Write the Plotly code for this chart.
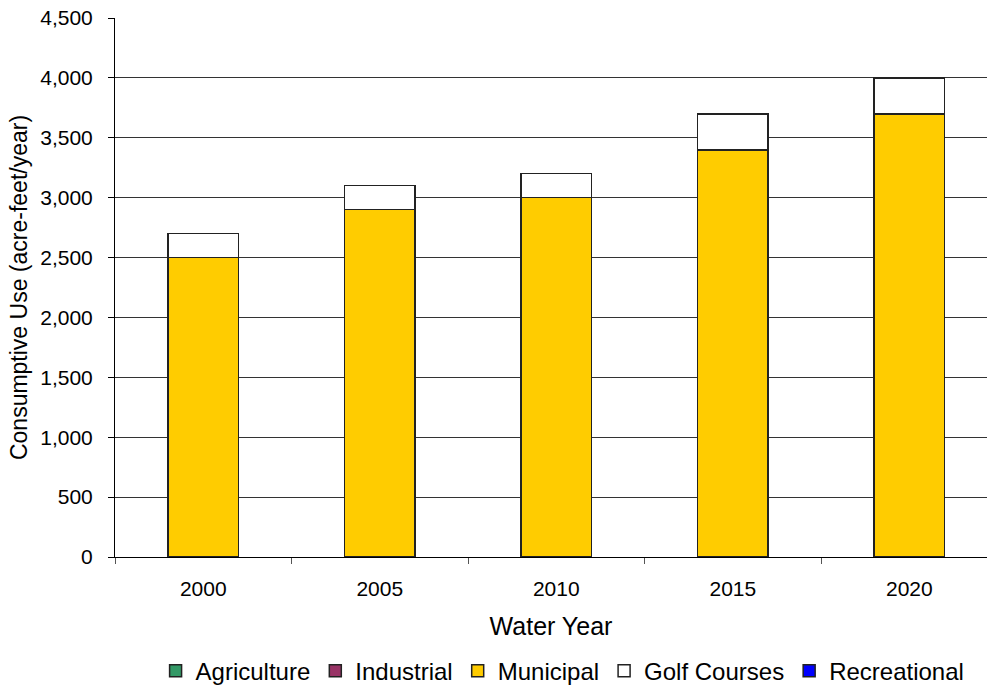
import plotly.graph_objects as go

years = ["2000", "2005", "2010", "2015", "2020"]
agriculture = [0, 0, 0, 0, 0]
industrial = [0, 0, 0, 0, 0]
municipal = [2500, 2900, 3000, 3400, 3700]
golf_courses = [200, 200, 200, 300, 300]
recreational = [0, 0, 0, 0, 0]

series = [
    ("Agriculture", agriculture, "#339966"),
    ("Industrial", industrial, "#993366"),
    ("Municipal", municipal, "#FFCC00"),
    ("Golf Courses", golf_courses, "#FFFFFF"),
    ("Recreational", recreational, "#0000FF"),
]

fig = go.Figure()
for name, vals, col in series:
    fig.add_trace(go.Bar(
        x=years, y=vals, name=name,
        marker=dict(color=col, line=dict(color="#222222", width=1.5)),
    ))

FONT = "Liberation Sans, Arial, sans-serif"
fig.update_layout(
    width=987, height=692,
    barmode="stack", bargap=0.6,
    paper_bgcolor="white", plot_bgcolor="white",
    margin=dict(l=115, r=0, t=18, b=135, autoexpand=False),
    font=dict(family=FONT, size=21, color="black"),
    legend=dict(orientation="h", xref="container", x=0.57, xanchor="center",
                yref="container", y=0.03, yanchor="middle",
                traceorder="normal", font=dict(size=24), itemwidth=30,
                tracegroupgap=0),
    xaxis=dict(
        type="category", range=[-0.5, 4.44], automargin=True,
        showline=True, linecolor="black", linewidth=1,
        ticks="outside", tickson="boundaries", ticklen=6, tickcolor="#555555",
        tickfont=dict(size=21), ticklabelstandoff=13,
        title=dict(text="Water Year", font=dict(size=25), standoff=18),
    ),
    yaxis=dict(
        range=[0, 4500], dtick=500, tickformat=",", automargin=True,
        showgrid=True, gridcolor="#333333", gridwidth=1,
        showline=True, linecolor="black", linewidth=1,
        ticks="outside", ticklen=6, tickcolor="black",
        tickfont=dict(size=21), ticklabelstandoff=11,
        title=dict(text="Consumptive Use (acre-feet/year)", font=dict(size=23), standoff=6),
        zeroline=False,
    ),
)

fig.write_html(
    "out.html",
    config={"displayModeBar": False},
    post_script="document.body.style.margin='0';document.body.style.overflow='hidden';",
)
